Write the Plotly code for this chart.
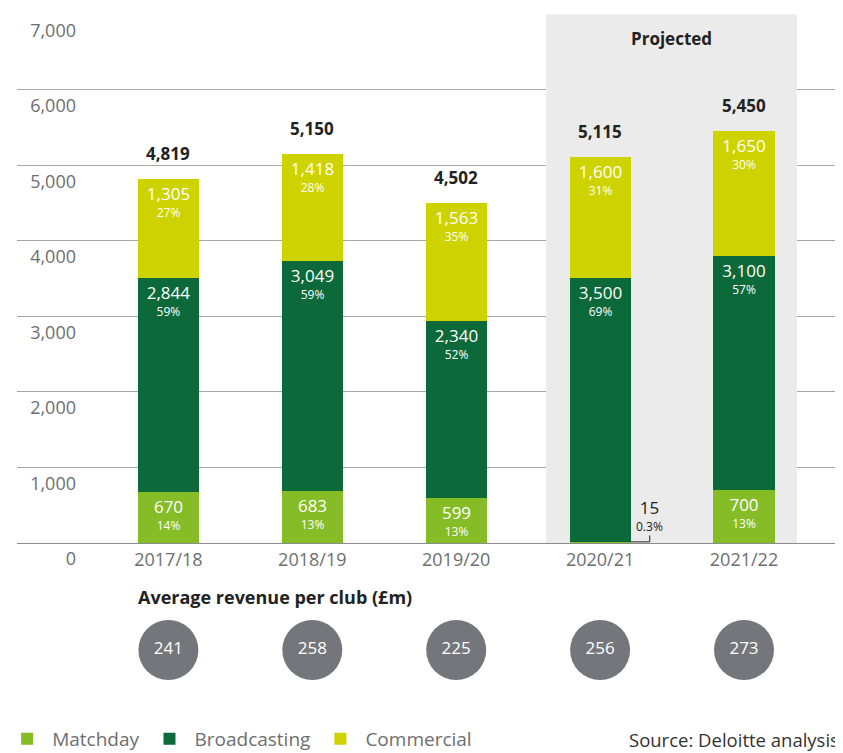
import plotly.graph_objects as go

seasons = ["2017/18", "2018/19", "2019/20", "2020/21", "2021/22"]
matchday = [670, 683, 599, 15, 700]
broadcasting = [2844, 3049, 2340, 3500, 3100]
commercial = [1305, 1418, 1563, 1600, 1650]
matchday_pct = ["14%", "13%", "13%", "0.3%", "13%"]
broadcasting_pct = ["59%", "59%", "52%", "69%", "57%"]
commercial_pct = ["27%", "28%", "35%", "31%", "30%"]
totals = [4819, 5150, 4502, 5115, 5450]
avg_per_club = [241, 258, 225, 256, 273]

GREY = "#6d6e71"
FONT = "Open Sans"

# the page body has an 8px margin, so the figure is made 8px smaller
# and everything is placed relative to the plot area
W, H = 843 - 8, 753 - 8


def px_x(p):   # page pixel -> paper x
    return (p - 17) / 826


def px_y(p):   # page pixel -> paper y
    return (700 - p) / 686


def seg_text(vals, pcts, skip=()):
    out = []
    for i, (v, p) in enumerate(zip(vals, pcts)):
        if i in skip:
            out.append("")
        else:
            out.append(f"<span style='font-size:17px'>{v:,}</span><br>"
                       f"<span style='font-size:12px'>{p}</span>")
    return out


fig = go.Figure()

series = [
    ("Matchday", matchday, matchday_pct, "#86bc25", (3,)),
    ("Broadcasting", broadcasting, broadcasting_pct, "#0c6a3a", ()),
    ("Commercial", commercial, commercial_pct, "#ced300", ()),
]
for name, vals, pcts, col, skip in series:
    fig.add_trace(go.Bar(
        x=seasons, y=vals, name=name,
        marker=dict(color=col, line=dict(width=0)),
        width=0.424,
        text=seg_text(vals, pcts, skip),
        textposition="inside",
        insidetextanchor="end",
        textangle=0,
        constraintext="none",
        textfont=dict(family=FONT, size=13, color="white"),
        hoverinfo="skip",
    ))

# average revenue per club circles
fig.add_trace(go.Scatter(
    x=seasons, y=[0] * len(seasons), yaxis="y2",
    mode="markers+text",
    marker=dict(size=60, color="#75767b"),
    text=[str(v) for v in avg_per_club],
    textposition="middle center",
    textfont=dict(family=FONT, size=17, color="white"),
    showlegend=False, hoverinfo="skip", cliponaxis=False,
))

# totals above bars
for s, t in zip(seasons, totals):
    fig.add_annotation(x=s, y=t, text=f"<b>{t:,}</b>", showarrow=False,
                       yanchor="bottom", yshift=12,
                       font=dict(family=FONT, size=17, color="#222222"))

# small matchday value for 2020/21 with leader line
fig.add_annotation(x=3.345, y=matchday[3],
                   text=f"<span style='font-size:17px'>{matchday[3]}</span><br>"
                        f"<span style='font-size:12px'>{matchday_pct[3]}</span>",
                   showarrow=False, yanchor="bottom", yshift=5,
                   font=dict(family=FONT, size=13, color="#222222"))
fig.add_shape(type="path", xref="x", yref="y",
              path=f"M 3.212,{matchday[3]} L 3.345,{matchday[3]} L 3.345,{matchday[3] + 85}",
              line=dict(color="#222222", width=1))

# projected shading
fig.add_shape(type="rect", xref="x", yref="y", x0=2.624, x1=4.368, y0=0, y1=7000,
              fillcolor="#ebebeb", line=dict(width=0), layer="between")
fig.add_annotation(x=3.496, xref="x", y=1, yref="paper", yanchor="top", yshift=-11,
                   text="<b>Projected</b>", showarrow=False,
                   font=dict(family=FONT, size=17, color="#222222"))

fig.add_annotation(x=px_x(136), xref="paper", y=px_y(597), yref="paper",
                   xanchor="left", yanchor="middle",
                   text="<b>Average revenue per club (£m)</b>", showarrow=False,
                   font=dict(family=FONT, size=18, color="#222222"))

fig.add_annotation(x=px_x(841), xref="paper", y=px_y(739), yref="paper",
                   xanchor="right", yanchor="middle",
                   text="Source: Deloitte analysis", showarrow=False,
                   font=dict(family=FONT, size=18.5, color="#333333"))

fig.update_layout(
    width=W, height=H,
    margin=dict(l=9, r=0, t=6, b=53, autoexpand=False),
    barmode="stack",
    plot_bgcolor="white", paper_bgcolor="white",
    font=dict(family=FONT, color=GREY),
    bargap=0,
    xaxis=dict(
        range=[-1.052, 4.688], automargin=False,
        tickfont=dict(family=FONT, size=18, color=GREY),
        showgrid=False, showline=True, linecolor="#8c8c8c", linewidth=1,
        ticks="", fixedrange=True,
    ),
    yaxis=dict(
        domain=[px_y(543), 1], automargin=False,
        range=[0, 7004], dtick=1000, tickformat=",",
        showgrid=True, gridcolor="#a8a8a8", gridwidth=1,
        zeroline=False, showline=False, ticks="",
        anchor="free", position=px_x(76),
        ticklabelposition="outside", ticklabelshift=16,
        tickfont=dict(family=FONT, size=18, color=GREY),
    ),
    yaxis2=dict(
        domain=[0, 0.2], range=[-0.3644, 0.6356], automargin=False,
        showgrid=False, zeroline=False, showticklabels=False,
        anchor="x",
    ),
    legend=dict(
        orientation="h", x=-0.018, xanchor="left",
        y=px_y(739), yanchor="middle",
        font=dict(family=FONT, size=19, color=GREY),
        traceorder="normal", itemwidth=40,
    ),
)

fig.write_html("out.html")
